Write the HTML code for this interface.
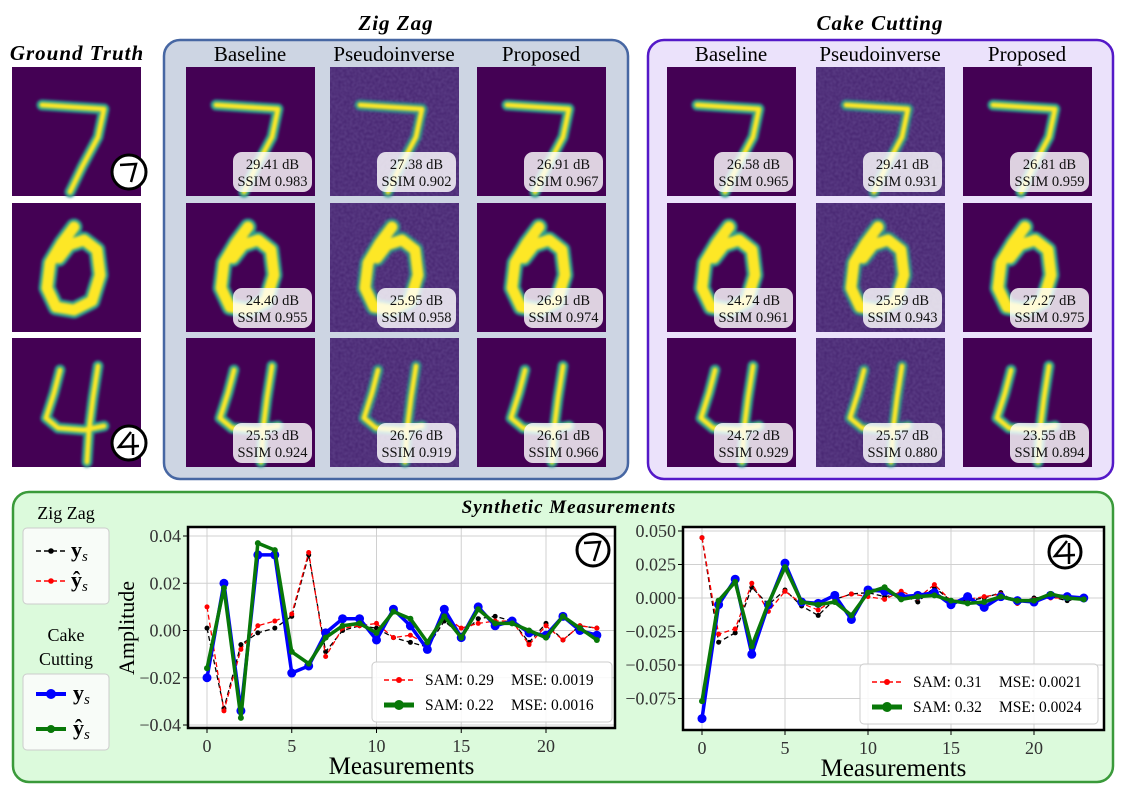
<!DOCTYPE html>
<html><head><meta charset="utf-8">
<style>
body{margin:0;width:1122px;height:795px;background:#fff;overflow:hidden;position:relative;font-family:"Liberation Serif",serif;}
</style></head>
<body>
<svg id="fig" width="1122" height="795" viewBox="0 0 1122 795" xmlns="http://www.w3.org/2000/svg" style="position:absolute;left:0;top:0;font-family:'Liberation Serif',serif">
  <defs>
    <filter id="blur1" x="-20%" y="-20%" width="140%" height="140%"><feGaussianBlur stdDeviation="1.2"/></filter>
    <filter id="noise" x="0" y="0" width="100%" height="100%">
      <feTurbulence type="fractalNoise" baseFrequency="0.35" numOctaves="1" seed="3" result="t"/>
      <feColorMatrix in="t" type="matrix" values="0 0 0 0 0.28  0 0 0 0 0.2  0 0 0 0 0.5  0 0 0 0.35 0"/>
    </filter>
  </defs>
  <rect x="164" y="40" width="464" height="439" rx="16" fill="#cdd5e3" stroke="#4767a3" stroke-width="2.5"/>
  <rect x="648" y="40" width="465" height="439" rx="16" fill="#ebe2fb" stroke="#5419c8" stroke-width="2.5"/>
  <rect x="13" y="492" width="1100" height="290" rx="16" fill="#dcfadc" stroke="#3a9a3a" stroke-width="2.5"/>
  <text x="77" y="60" font-size="21" font-weight="bold" font-style="italic" text-anchor="middle" letter-spacing="1">Ground Truth</text>
  <text x="396" y="30" font-size="21" font-weight="bold" font-style="italic" text-anchor="middle" letter-spacing="1">Zig Zag</text>
  <text x="880" y="30" font-size="21" font-weight="bold" font-style="italic" text-anchor="middle" letter-spacing="1">Cake Cutting</text>
  <text x="569" y="513" font-size="19" font-weight="bold" font-style="italic" text-anchor="middle" letter-spacing="1">Synthetic Measurements</text>
  <g id="cols" font-size="21" text-anchor="middle">
    <text x="250" y="61">Baseline</text>
    <text x="394" y="61">Pseudoinverse</text>
    <text x="541" y="61">Proposed</text>
    <text x="731" y="61">Baseline</text>
    <text x="880" y="61">Pseudoinverse</text>
    <text x="1027" y="61">Proposed</text>
  </g>
  <g id="images"></g>
  <text x="66" y="519" font-size="18" text-anchor="middle">Zig Zag</text>
  <rect x="23" y="528" width="86" height="76" rx="4" fill="#f8fcf8" stroke="#ccc"/>
  <g>
    <line x1="36" y1="551" x2="66" y2="551" stroke="#000" stroke-width="1.5" stroke-dasharray="5,3"/><circle cx="51" cy="551" r="2.8"/>
    <text x="71" y="557" font-size="22" font-weight="bold">y<tspan font-size="15" font-style="italic" font-weight="normal" dy="4">s</tspan></text>
  </g>
  <g>
    <line x1="36" y1="581" x2="66" y2="581" stroke="#f00" stroke-width="1.5" stroke-dasharray="5,3"/><circle cx="51" cy="581" r="2.8" fill="#f00"/>
    <text x="71" y="587" font-size="22" font-weight="bold">ŷ<tspan font-size="15" font-style="italic" font-weight="normal" dy="4">s</tspan></text>
  </g>
  <text x="66" y="641" font-size="18" text-anchor="middle">Cake</text>
  <text x="66" y="665" font-size="18" text-anchor="middle">Cutting</text>
  <rect x="23" y="674" width="86" height="76" rx="4" fill="#f8fcf8" stroke="#ccc"/>
  <g>
    <line x1="36" y1="694" x2="66" y2="694" stroke="#00f" stroke-width="4"/><circle cx="51" cy="694" r="5" fill="#00f"/>
    <text x="73" y="700" font-size="22" font-weight="bold">y<tspan font-size="15" font-style="italic" font-weight="normal" dy="4">s</tspan></text>
  </g>
  <g>
    <line x1="36" y1="729" x2="66" y2="729" stroke="#087808" stroke-width="4"/><circle cx="51" cy="729" r="4" fill="#087808"/>
    <text x="73" y="735" font-size="22" font-weight="bold">ŷ<tspan font-size="15" font-style="italic" font-weight="normal" dy="4">s</tspan></text>
  </g>
  <g id="charts"></g>
</svg>
<script>
// ---------- chart data ----------
const xs = [0,1,2,3,4,5,6,7,8,9,10,11,12,13,14,15,16,17,18,19,20,21,22,23];
const c1_zz_y   = [0.001,-0.033,-0.006,-0.001,0.001,0.006,0.032,-0.009,0,0.002,0.001,-0.003,-0.005,-0.007,0.004,-0.002,0.005,0.006,0.004,-0.005,0.003,-0.004,0.002,0.001];
const c1_zz_yh  = [0.010,-0.034,-0.008,0.002,0.004,0.007,0.033,-0.011,0.001,0.002,0.003,-0.003,-0.002,-0.006,0.006,0.001,0.003,0.004,0.004,-0.006,0.002,-0.004,0.002,0.001];
const c1_cc_y   = [-0.020,0.020,-0.034,0.032,0.032,-0.018,-0.015,-0.001,0.005,0.005,-0.004,0.009,0.002,-0.008,0.009,-0.003,0.010,0.002,0.004,-0.001,-0.002,0.006,0,-0.002];
const c1_cc_yh  = [-0.016,0.018,-0.037,0.037,0.034,-0.009,-0.014,-0.003,0.002,0.003,-0.001,0.008,0.005,-0.005,0.006,-0.003,0.009,0.003,0.003,0,-0.003,0.006,0.001,-0.004];
const c2_zz_y   = [0.045,-0.033,-0.026,0.008,-0.005,0.006,-0.006,-0.013,-0.001,0.003,0.004,0.001,0.003,-0.003,0.008,-0.002,-0.002,0,0.004,-0.004,0,0.001,-0.002,0];
const c2_zz_yh  = [0.045,-0.027,-0.023,0.011,-0.010,0.005,-0.004,-0.009,-0.001,0.003,0.001,-0.001,0.005,0,0.010,-0.002,-0.001,0.001,0.003,-0.004,-0.001,0,0,0];
const c2_cc_y   = [-0.090,-0.005,0.014,-0.042,-0.005,0.026,-0.003,-0.004,0.002,-0.016,0.006,0.005,0.001,0.002,0.004,-0.005,0.001,-0.007,0.001,-0.002,-0.003,0.002,0.001,0];
const c2_cc_yh  = [-0.077,-0.002,0.012,-0.036,-0.004,0.023,-0.003,-0.005,-0.003,-0.013,0.004,0.008,-0.001,0.001,0.002,-0.002,-0.004,-0.003,0.001,-0.002,-0.002,0.003,0,-0.001];
const xTicks = [0,5,10,15,20];
const c1_yTicks = [0.04,0.02,0.00,-0.02,-0.04];
const c1_yTickLabels = ["0.04","0.02","0.00","\u22120.02","\u22120.04"];
const c2_yTicks = [0.05,0.025,0,-0.025,-0.05,-0.075];
const c2_yTickLabels = ["0.050","0.025","0.000","\u22120.025","\u22120.050","\u22120.075"];
const c1_legend = ["SAM: 0.29","MSE: 0.0019","SAM: 0.22","MSE: 0.0016"];
const c2_legend = ["SAM: 0.31","MSE: 0.0021","SAM: 0.32","MSE: 0.0024"];
const rowsDigits = ["7","0","4"];
const zzMetrics = [[["29.41","0.983"],["27.38","0.902"],["26.91","0.967"]],[["24.40","0.955"],["25.95","0.958"],["26.91","0.974"]],[["25.53","0.924"],["26.76","0.919"],["26.61","0.966"]]];
const ccMetrics = [[["26.58","0.965"],["29.41","0.931"],["26.81","0.959"]],[["24.74","0.961"],["25.59","0.943"],["27.27","0.975"]],[["24.72","0.929"],["25.57","0.880"],["23.55","0.894"]]];

const NS="http://www.w3.org/2000/svg";
function mk(tag, attrs, parent){const e=document.createElementNS(NS,tag);for(const k in attrs)e.setAttribute(k,attrs[k]);if(parent)parent.appendChild(e);return e;}

const imgG=document.getElementById('images');
const digitPaths={
 "7":"M30 38 L60 40 L92 42 L86 70 L70 100 L58 125",
 "0":"M62 24 L50 40 L38 60 L35 85 L44 104 L62 107 L80 98 L88 72 L85 47 L72 37 L57 42 L47 55",
 "4":"M48 32 L42 55 L34 80 L46 90 L72 92 L92 88 M86 28 L81 60 L77 92 L75 124"
};
const digitWidth={"7":5,"0":11,"4":5};
const rowY=[67,203,338];
function drawImg(x,y,digit,noisy,name,metrics,circled){
  const g=mk('g',{transform:`translate(${x},${y})`},imgG);
  
  
  mk('rect',{x:0,y:0,width:129,height:129,fill:noisy?'#44226e':'#440154'},g);
  if(noisy) mk('rect',{x:0,y:0,width:129,height:129,filter:'url(#noise)'},g);
  const w=digitWidth[digit];
  mk('path',{d:digitPaths[digit],fill:'none',stroke:'#2a9d8f','stroke-width':w+6,'stroke-linecap':'round','stroke-linejoin':'round',filter:'url(#blur1)',opacity:noisy?0.85:1},g);
  mk('path',{d:digitPaths[digit],fill:'none',stroke:'#fde725','stroke-width':w,'stroke-linecap':'round','stroke-linejoin':'round',filter:'url(#blur1)'},g);
  if(metrics){
    mk('rect',{x:47,y:85,width:79,height:40,rx:9,fill:'#ffffff','fill-opacity':0.82},g);
    const t1=mk('text',{x:86.5,y:102,'font-size':14.5,'text-anchor':'middle',fill:'#111'},g);t1.textContent=metrics[0]+" dB";
    const t2=mk('text',{x:86.5,y:119,'font-size':14.5,'text-anchor':'middle',fill:'#111'},g);t2.textContent="SSIM "+metrics[1];
  }
  if(circled){
    mk('circle',{cx:117,cy:105,r:17,fill:'#fff',stroke:'#000','stroke-width':3},g);
    if(digit==="7") mk('path',{d:'M108 98 L124 97 L119 115',fill:'none',stroke:'#000','stroke-width':2.5},g);
    else mk('path',{d:'M119 94 L107 109 L127 108 M121 96 L121 117',fill:'none',stroke:'#000','stroke-width':2.5},g);
  }
}
const gtX=12, zzX=[186,330,477], ccX=[667,816,963];
rowsDigits.forEach((d,r)=>{
  drawImg(gtX,rowY[r],d,false,'ground-truth-'+d,null,d!=="0");
  zzX.forEach((x,c)=>drawImg(x,rowY[r],d,c===1,'zigzag-img-'+r+'-'+c,zzMetrics[r][c],false));
  ccX.forEach((x,c)=>drawImg(x,rowY[r],d,c===1,'cake-img-'+r+'-'+c,ccMetrics[r][c],false));
});

const chG=document.getElementById('charts');
function chart(cfg){
  const g=mk('g',{},chG);
  
  
  const X=v=>cfg.x0+(v-0)*(cfg.x20-cfg.x0)/20;
  const Y=v=>cfg.yz+(v)*(cfg.yTopPx-cfg.yz)/cfg.yTopV;
  mk('rect',{x:cfg.L,y:cfg.T,width:cfg.R-cfg.L,height:cfg.B-cfg.T,fill:'#fff'},g);
  xTicks.forEach(t=>{
    mk('line',{x1:X(t),x2:X(t),y1:cfg.T,y2:cfg.B,stroke:'#d0d0d0','stroke-width':1},g);
    mk('line',{x1:X(t),x2:X(t),y1:cfg.B,y2:cfg.B+5,stroke:'#000'},g);
    const tx=mk('text',{x:X(t),y:cfg.B+24,'font-size':18,'text-anchor':'middle',fill:'#333'},g);tx.textContent=t;
  });
  cfg.yTicks.forEach((t,i)=>{
    mk('line',{x1:cfg.L,x2:cfg.R,y1:Y(t),y2:Y(t),stroke:'#d0d0d0','stroke-width':1},g);
    mk('line',{x1:cfg.L-5,x2:cfg.L,y1:Y(t),y2:Y(t),stroke:'#000'},g);
    const ty=mk('text',{x:cfg.L-7,y:Y(t)+6,'font-size':18,'text-anchor':'end',fill:'#333'},g);ty.textContent=cfg.yLabels[i];
  });
  const series=[
    {d:cfg.zzy,c:'#000',w:1.3,dash:'5,3',r:2.5,n:'zz-ys'},
    {d:cfg.zzyh,c:'#f00',w:1.3,dash:'5,3',r:2.5,n:'zz-yhat'},
    {d:cfg.ccy,c:'#0000ff',w:3.5,dash:'',r:4.5,n:'cc-ys'},
    {d:cfg.ccyh,c:'#087808',w:3.5,dash:'',r:3,n:'cc-yhat'}
  ];
  series.forEach(s=>{
    const pts=s.d.map((v,i)=>X(xs[i])+','+Y(v)).join(' ');
    const pl=mk('polyline',{points:pts,fill:'none',stroke:s.c,'stroke-width':s.w,'stroke-dasharray':s.dash,'stroke-linejoin':'round'},g);
    
    
    s.d.forEach((v,i)=>{mk('circle',{cx:X(xs[i]),cy:Y(v),r:s.r,fill:s.c},g);});
  });
  mk('rect',{x:cfg.L,y:cfg.T,width:cfg.R-cfg.L,height:cfg.B-cfg.T,fill:'none',stroke:'#000','stroke-width':2.5},g);
  const lg=mk('g',{},g);
  
  
  mk('rect',{x:cfg.lx,y:cfg.ly,width:cfg.lw,height:60,rx:4,fill:'#fff','fill-opacity':0.85,stroke:'#ccc'},lg);
  mk('line',{x1:cfg.lx+12,x2:cfg.lx+42,y1:cfg.ly+18,y2:cfg.ly+18,stroke:'#f00','stroke-width':1.5,'stroke-dasharray':'5,3'},lg);
  mk('circle',{cx:cfg.lx+27,cy:cfg.ly+18,r:3,fill:'#f00'},lg);
  mk('line',{x1:cfg.lx+12,x2:cfg.lx+42,y1:cfg.ly+43,y2:cfg.ly+43,stroke:'#087808','stroke-width':5},lg);
  mk('circle',{cx:cfg.lx+27,cy:cfg.ly+43,r:5,fill:'#087808'},lg);
  [[cfg.leg[0],cfg.leg[1],18],[cfg.leg[2],cfg.leg[3],43]].forEach(r=>{
    const a=mk('text',{x:cfg.lx+53,y:cfg.ly+r[2]+5,'font-size':15.5},lg);a.textContent=r[0];
    const b=mk('text',{x:cfg.lx+139,y:cfg.ly+r[2]+5,'font-size':15.5},lg);b.textContent=r[1];
  });
  mk('circle',{cx:cfg.cx,cy:cfg.cy,r:16,fill:'#fff',stroke:'#000','stroke-width':3},g);
  if(cfg.digit==="7") mk('path',{d:`M${cfg.cx-9} ${cfg.cy-7} L${cfg.cx+7} ${cfg.cy-8} L${cfg.cx+1} ${cfg.cy+11}`,fill:'none',stroke:'#000','stroke-width':2.5},g);
  else mk('path',{d:`M${cfg.cx+2} ${cfg.cy-11} L${cfg.cx-10} ${cfg.cy+4} L${cfg.cx+10} ${cfg.cy+3} M${cfg.cx+4} ${cfg.cy-9} L${cfg.cx+4} ${cfg.cy+12}`,fill:'none',stroke:'#000','stroke-width':2.5},g);
  const xl=mk('text',{x:(cfg.L+cfg.R)/2,y:cfg.B+46,'font-size':25,'text-anchor':'middle'},g);xl.textContent="Measurements";
  
  
}
chart({name:'chart-digit-7',L:188,R:615,T:527,B:728,x0:207,x20:546,yz:630.5,yTopPx:536,yTopV:0.04,
  yTicks:c1_yTicks,yLabels:c1_yTickLabels,zzy:c1_zz_y,zzyh:c1_zz_yh,ccy:c1_cc_y,ccyh:c1_cc_yh,
  lx:372,ly:662,lw:240,leg:c1_legend,cx:593,cy:550,digit:"7"});
chart({name:'chart-digit-4',L:683,R:1104,T:527,B:730,x0:702,x20:1034,yz:598,yTopPx:531,yTopV:0.05,
  yTicks:c2_yTicks,yLabels:c2_yTickLabels,zzy:c2_zz_y,zzyh:c2_zz_yh,ccy:c2_cc_y,ccyh:c2_cc_yh,
  lx:860,ly:664,lw:238,leg:c2_legend,cx:1065,cy:552,digit:"4"});
const amp=mk('text',{x:0,y:0,'font-size':22,'text-anchor':'middle',transform:'translate(134,628) rotate(-90)'},chG);
amp.textContent="Amplitude";


</script>
</body></html>
